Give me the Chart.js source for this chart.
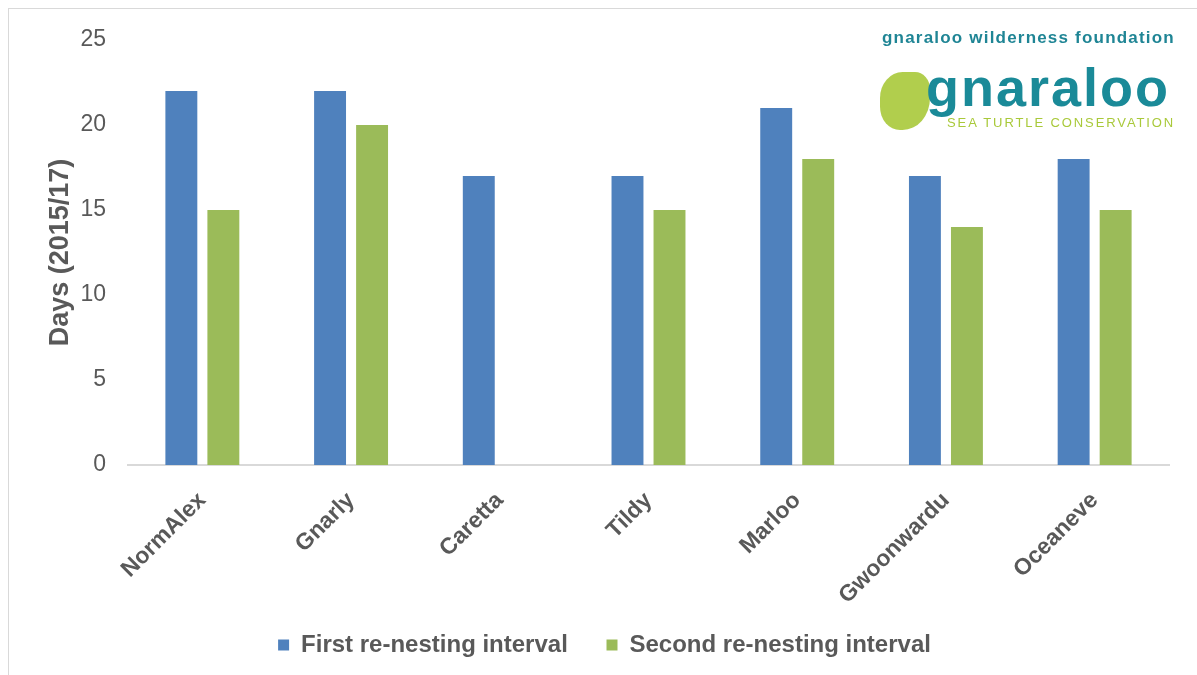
<!DOCTYPE html>
<html>
<head>
<meta charset="utf-8">
<script src="https://cdn.jsdelivr.net/npm/chart.js@4.4.1/dist/chart.umd.min.js"></script>
<style>
  html, body { margin: 0; padding: 0; background: #fff; }
  #wrap { position: relative; width: 1197px; height: 675px; overflow: hidden; }
  #frame { position: absolute; left: 8px; top: 8px; width: 1300px; height: 800px; border: 1px solid #d9d9d9; }
  canvas { position: absolute; left: 0; top: 0; }
  .logo { position: absolute; font-family: "Liberation Sans", Arial, sans-serif; white-space: nowrap; }
  #logo1 { left: 882px; top: 28px; font-size: 17px; color: #1f8595; font-weight: bold; letter-spacing: 1.2px; }
  #logo2 { left: 926px; top: 56px; font-size: 54px; color: #1a8a98; font-weight: bold; letter-spacing: 2px; }
  #logo3 { left: 947px; top: 115px; font-size: 13px; color: #a9c93a; letter-spacing: 1.9px; }
  #turtle { left: 880px; top: 72px; width: 50px; height: 58px; background: #a9c93a; border-radius: 45% 30% 55% 40%; opacity: 0.9; }
</style>
</head>
<body>
<div id="wrap">
  <div id="frame"></div>
  <canvas id="myChart" width="1197" height="675"></canvas>
  <div class="logo" id="turtle"></div>
  <div class="logo" id="logo1">gnaraloo wilderness foundation</div>
  <div class="logo" id="logo2">gnaraloo</div>
  <div class="logo" id="logo3">SEA TURTLE CONSERVATION</div>
</div>
<script>
const turtles = ["NormAlex", "Gnarly", "Caretta", "Tildy", "Marloo", "Gwoonwardu", "Oceaneve"];
const firstInterval = [22, 22, 17, 17, 21, 17, 18];
const secondInterval = [15, 20, null, 15, 18, 14, 15];
const yTicks = [0, 5, 10, 15, 20, 25];

const grey = "#595959";
const font = "'Liberation Sans', Arial, sans-serif";

const ctx = document.getElementById("myChart").getContext("2d");
new Chart(ctx, {
  type: "bar",
  data: {
    labels: turtles,
    datasets: [
      { label: "First re-nesting interval", data: firstInterval, backgroundColor: "#4F81BD" },
      { label: "Second re-nesting interval", data: secondInterval, backgroundColor: "#9BBB59" }
    ]
  },
  options: {
    responsive: false,
    animation: false,
    categoryPercentage: 0.565,
    barPercentage: 0.76,
    layout: { padding: { left: 40, right: 28, top: 40, bottom: 8 } },
    plugins: {
      tooltip: { enabled: false },
      legend: {
        position: "bottom",
        labels: {
          boxWidth: 11, boxHeight: 11, padding: 12,
          color: grey,
          font: { family: font, size: 24, weight: "bold" },
          generateLabels(chart) {
            // wider gap between the two legend entries
            const items = Chart.defaults.plugins.legend.labels.generateLabels(chart);
            items[0].text += "    ";
            return items;
          }
        }
      }
    },
    scales: {
      x: {
        grid: { display: false, drawTicks: false },
        border: { color: "#d9d9d9", width: 2 },
        ticks: {
          color: grey, minRotation: 45, maxRotation: 45, padding: 22,
          font: { family: font, size: 23, weight: "bold" }
        },
        afterFit(scale) { scale.height = 156; }
      },
      y: {
        min: 0, max: 25,
        afterBuildTicks(scale) { scale.ticks = yTicks.map(v => ({ value: v })); },
        grid: { display: false, drawTicks: false },
        border: { display: false },
        ticks: {
          color: grey, padding: 22,
          font: { family: font, size: 23 }
        },
        title: {
          display: true, text: "Days (2015/17)", color: grey,
          padding: { top: 4, bottom: 0 },
          font: { family: font, size: 27, weight: "bold" }
        },
        afterFit(scale) { scale.width = 88; }
      }
    }
  }
});
</script>
</body>
</html>
